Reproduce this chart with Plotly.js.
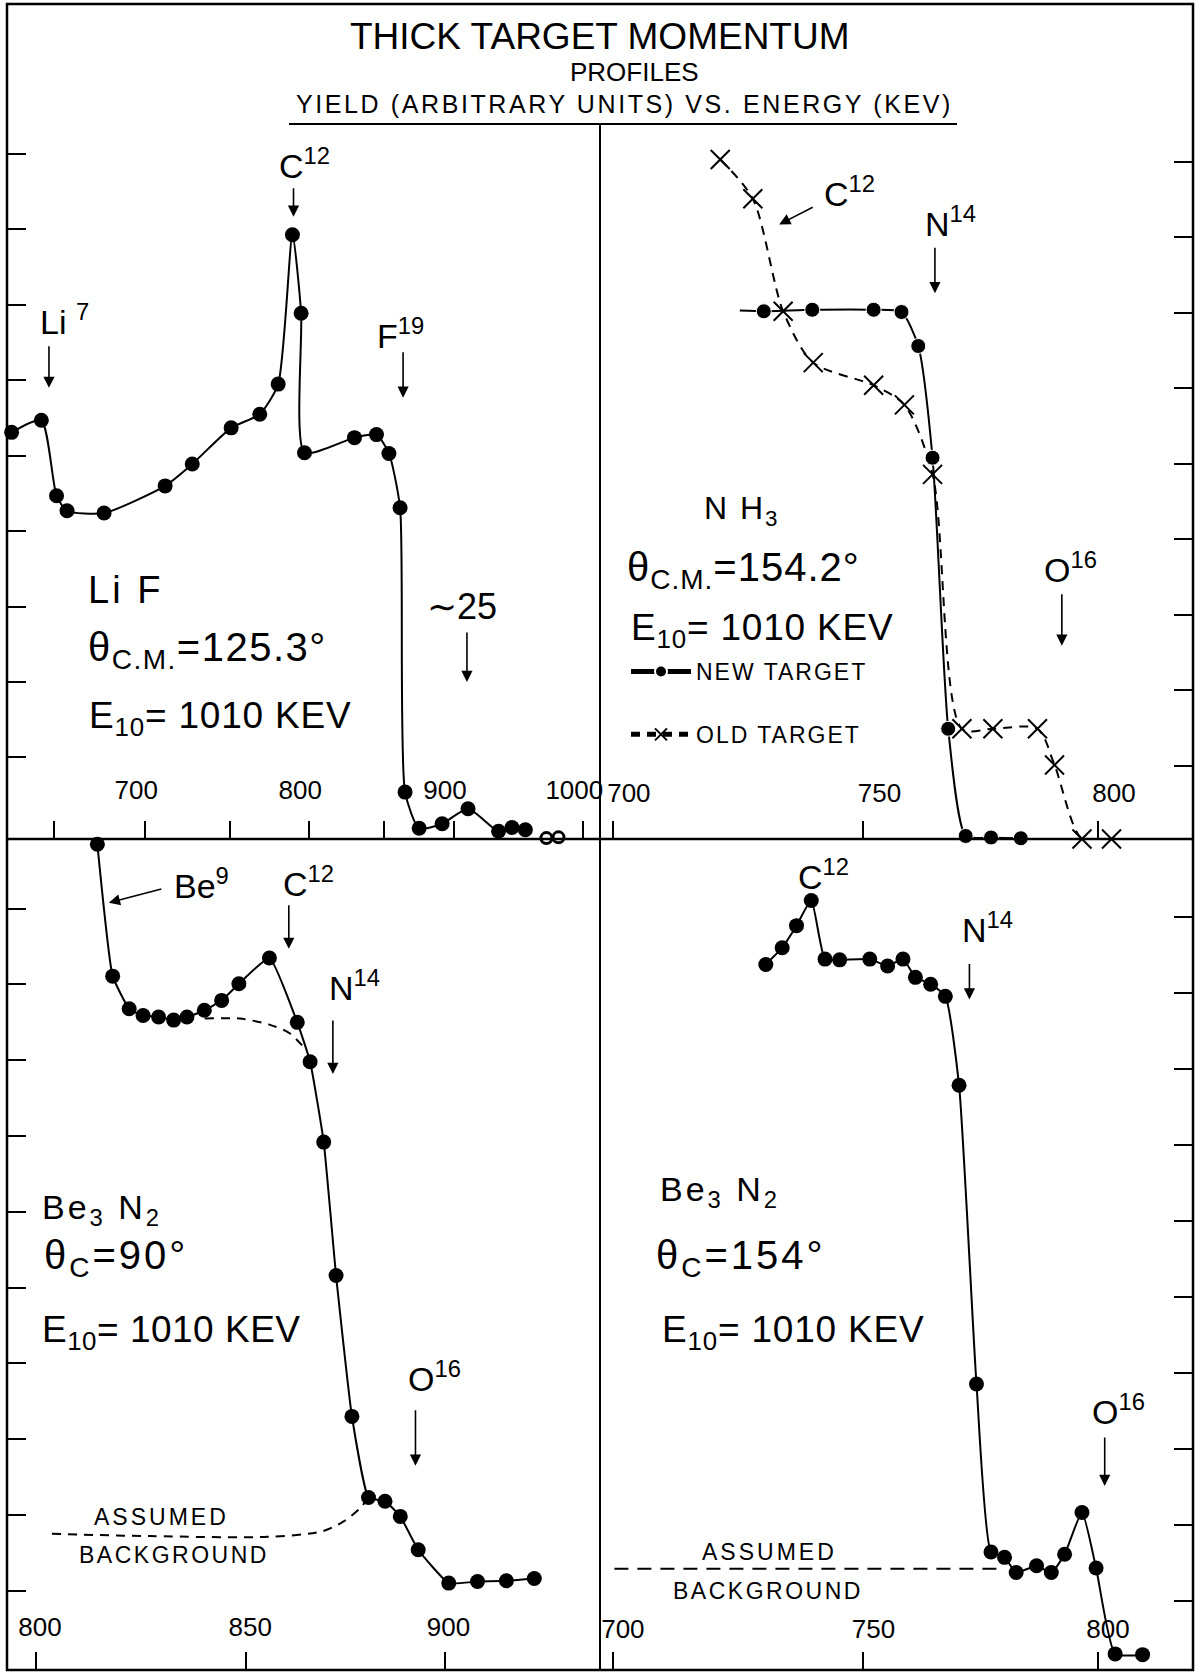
<!DOCTYPE html>
<html>
<head>
<meta charset="utf-8">
<script src="https://cdn.plot.ly/plotly-3.0.1.min.js"></script>
<style>html,body{margin:0;padding:0;background:#fff;}#chart{width:1198px;height:1675px;}</style>
</head>
<body>
<div id="chart"></div>
<script>
// ---------------- DATA (energy in keV, yield in arbitrary units) ----------------
// Top-left: LiF, theta_cm = 125.3 deg
const lifE = [627.8, 643.2, 651.2, 656.8, 676.9, 711.4, 727.3, 750.7, 768.4, 780.0, 789.1, 794.7, 796.9, 830.0, 845.0, 853.6, 861.4, 864.9, 874.9, 891.4, 910.4, 933.3, 943.6, 953.9];
const lifY = [5.31, 5.47, 4.47, 4.27, 4.24, 4.60, 4.89, 5.37, 5.55, 5.95, 7.93, 6.89, 5.04, 5.24, 5.28, 5.03, 4.31, 0.54, 0.06, 0.12, 0.32, 0.02, 0.07, 0.04];
const lifTailE = [970.4, 980.0];
const lifTailY = [-0.07, -0.06];
const lifTicks = [700, 800, 900, 1000];
const lifTickText = ['700', '800', '900', '1000'];
const lifMinorTicks = [650, 750, 850];
const lifArrowE = [647.2, 789.8, 863.5, 909.6];   // Li7, C12, F19, ~25
const lifArrowY = [5.90, 8.17, 5.77, 2.00];

// Top-right: NH3, theta_cm = 154.2 deg
const nh3NewE = [724.9, 729.7, 739.5, 752.1, 757.9, 761.4, 764.4, 767.7, 771.4, 776.8, 783.2];
const nh3NewY = [7.03, 7.02, 7.04, 7.04, 7.01, 6.56, 5.08, 1.49, 0.07, 0.05, 0.04];
const nh3OldE = [721.0, 727.5, 733.6, 739.7, 752.1, 758.5, 764.4, 770.6, 777.2, 786.8, 790.5, 796.5, 803.0];
const nh3OldY = [9.03, 8.51, 7.02, 6.34, 6.04, 5.78, 4.86, 1.49, 1.49, 1.49, 1.01, 0.03, 0.03];
const nh3Ticks = [700, 750, 800];
const nh3TickText = ['700', '750', '800'];
const nh3ArrowE = [764.9, 792.1];   // N14, O16
const nh3ArrowY = [7.26, 2.59];
const nh3C12E = 732.8, nh3C12Y = 8.17;

// Bottom-left: Be3N2, theta_c = 90 deg
const be90E = [814.3, 817.9, 821.8, 825.1, 828.8, 832.4, 835.6, 839.8, 844.0, 848.2, 855.7, 862.6, 865.8, 869.2, 872.3, 876.3, 880.5, 884.7, 888.6, 893.2, 901.1, 908.6, 916.2, 923.6];
const be90Y = [10.85, 9.11, 8.68, 8.59, 8.57, 8.53, 8.57, 8.66, 8.79, 9.01, 9.35, 8.50, 7.98, 6.92, 5.16, 3.30, 2.23, 2.18, 1.98, 1.54, 1.10, 1.12, 1.13, 1.16];
const be90BgC12E = [839.9, 848.4, 855.7, 860.6, 864.6];
const be90BgC12Y = [8.55, 8.55, 8.47, 8.36, 8.15];
const be90BgO16E = [803.7, 826.7, 855.2, 868.6, 874.1, 878.2, 880.5];
const be90BgO16Y = [1.75, 1.72, 1.71, 1.78, 1.91, 2.08, 2.23];
const be90Ticks = [800, 850, 900];
const be90TickText = ['800', '850', '900'];
const be90ArrowE = [860.5, 871.5, 892.5];  // C12, N14, O16
const be90ArrowY = [9.47, 7.82, 2.65];
const be90Be9E = 817.0, be90Be9Y = 10.08;

// Bottom-right: Be3N2, theta_c = 154 deg
const be154E = [730.1, 733.4, 736.3, 739.3, 742.1, 745.1, 751.3, 755.0, 758.2, 760.8, 764.0, 767.1, 770.0, 773.7, 776.8, 779.7, 782.2, 786.6, 789.8, 792.7, 796.5, 799.6, 803.8, 809.9];
const be154Y = [9.37, 9.59, 9.88, 10.21, 9.44, 9.43, 9.44, 9.35, 9.44, 9.20, 9.11, 8.95, 7.78, 3.85, 1.64, 1.57, 1.37, 1.46, 1.37, 1.61, 2.16, 1.43, 0.30, 0.29];
const be154BgE = [700.3, 778.0];
const be154BgY = [1.42, 1.42];
const be154Ticks = [700, 750, 800];
const be154TickText = ['700', '750', '800'];
const be154ArrowE = [772.2, 801.5];  // N14, O16
const be154ArrowY = [8.91, 2.51];

// ---------------- LAYOUT HELPERS ----------------
const W = 1198, H = 1675;
const FONT = 'Liberation Sans, Arial, sans-serif';
const fx = p => p / W;
const fy = p => 1 - p / H;
const XL = 7, XM = 600, XR = 1193, YT = 4, YM = 839, YB = 1670;

function txt(text, left, mid, size, anchor) {
  return {xref: 'paper', yref: 'paper', x: fx(left), y: fy(mid), text: text,
    showarrow: false, xanchor: anchor || 'left', yanchor: 'middle',
    font: {family: FONT, size: size, color: '#000'}};
}
function arrow(xa, ya, e, y, ax, ay) {
  return {xref: xa, yref: ya, x: Math.log10(e), y: y, text: '', showarrow: true,
    ax: ax, ay: ay, arrowhead: 2, arrowsize: 1.4, arrowwidth: 1.6, arrowcolor: '#000', standoff: 0};
}
const sp = (t, ls) => "<span style='letter-spacing:" + ls + "px'>" + t + "</span>";

const dot = {color: '#000', size: 15, symbol: 'circle', opacity: 1};
const solid = {color: '#000', width: 2, shape: 'spline', smoothing: 0.6};
const dashed = {color: '#000', width: 2, dash: '9px,7px', shape: 'spline', smoothing: 0.8};

const traces = [
  {x: lifE, y: lifY, xaxis: 'x', yaxis: 'y', mode: 'lines+markers', marker: dot, line: solid, cliponaxis: false, showlegend: false},
  {x: lifTailE, y: lifTailY, xaxis: 'x', yaxis: 'y', mode: 'markers', marker: {color: '#000', size: 11, symbol: 'circle-open', opacity: 1, line: {width: 3, color: '#000'}}, cliponaxis: false, showlegend: false},

  {x: nh3NewE, y: nh3NewY, xaxis: 'x2', yaxis: 'y2', mode: 'lines+markers', name: sp('NEW TARGET', 2),
   legendgroup: 'a', marker: {color: '#000', symbol: 'circle', opacity: 1, size: nh3NewE.map((v, i) => i === 0 ? 0 : 15)}, line: solid, cliponaxis: false},
  {x: nh3OldE, y: nh3OldY, xaxis: 'x2', yaxis: 'y2', mode: 'lines+markers', name: sp('OLD TARGET', 2),
   legendgroup: 'b', marker: {symbol: 'x-thin', size: 19, color: '#000', opacity: 1, line: {width: 2, color: '#000'}}, line: dashed, cliponaxis: false},

  {x: be90E, y: be90Y, xaxis: 'x3', yaxis: 'y3', mode: 'lines+markers', marker: dot, line: {color: '#000', width: 2, shape: 'spline', smoothing: 0.4}, cliponaxis: false, showlegend: false},
  {x: be90BgC12E, y: be90BgC12Y, xaxis: 'x3', yaxis: 'y3', mode: 'lines', line: dashed, showlegend: false},
  {x: be90BgO16E, y: be90BgO16Y, xaxis: 'x3', yaxis: 'y3', mode: 'lines', line: dashed, showlegend: false},

  {x: be154E, y: be154Y, xaxis: 'x4', yaxis: 'y4', mode: 'lines+markers', marker: dot, line: {color: '#000', width: 2, shape: 'spline', smoothing: 0.5}, cliponaxis: false, showlegend: false},
  {x: be154BgE, y: be154BgY, xaxis: 'x4', yaxis: 'y4', mode: 'lines', line: {color: '#000', width: 2, dash: '14px,9px'}, showlegend: false}
];

function xax(dom, rng, anchor, tv, tt, shift, standoff, minorTv) {
  const a = {domain: dom, type: 'log', range: rng, anchor: anchor, tickvals: tv, ticktext: tt,
    ticks: 'inside', ticklen: 18, tickwidth: 2, tickcolor: '#000', ticklabelposition: 'inside',
    ticklabeloverflow: 'allow', ticklabelstandoff: standoff, ticklabelshift: shift,
    tickfont: {family: FONT, size: 26, color: '#000'},
    showline: false, showgrid: false, zeroline: false, fixedrange: true};
  if (minorTv) a.minor = {tickvals: minorTv, ticks: 'inside', ticklen: 18, tickwidth: 2, tickcolor: '#000', showgrid: false};
  return a;
}
function yax(dom, rng, anchor, side, n) {
  const tv = [];
  for (let i = 1; i <= n; i++) tv.push(i);
  return {domain: dom, range: rng, anchor: anchor, side: side, tickvals: tv, showticklabels: false,
    ticks: 'inside', ticklen: 19, tickwidth: 2, tickcolor: '#000',
    showline: false, showgrid: false, zeroline: false, fixedrange: true};
}

const layout = {
  width: W, height: H, margin: {l: 0, r: 0, t: 0, b: 0},
  paper_bgcolor: '#fff', plot_bgcolor: 'rgba(0,0,0,0)',
  font: {family: FONT, color: '#000'},
  showlegend: true,
  legend: {x: fx(626), y: fy(650), xanchor: 'left', yanchor: 'top', bgcolor: 'rgba(0,0,0,0)',
    font: {family: FONT, size: 23, color: '#000'}, tracegroupgap: 30, traceorder: 'grouped',
    itemsizing: 'constant', itemwidth: 60},
  xaxis:  xax([fx(XL), fx(XM)], [2.7962, 3.0059], 'y', lifTicks, lifTickText, -9, 19, lifMinorTicks),
  yaxis:  yax([fy(YM), fy(YT)], [-0.082, 10.99], 'x', 'left', 9),
  xaxis2: xax([fx(XM), fx(XR)], [2.84356, 2.91446], 'y2', nh3Ticks, nh3TickText, 16, 16),
  yaxis2: yax([fy(YM), fy(YT)], [0.03, 11.09], 'x2', 'right', 9),
  xaxis3: xax([fx(XL), fx(XM)], [2.89947, 2.97371], 'y3', be90Ticks, be90TickText, 4, 13),
  yaxis3: yax([fy(YB), fy(YM)], [-0.047, 10.92], 'x3', 'left', 10),
  xaxis4: xax([fx(XM), fx(XR)], [2.84356, 2.91446], 'y4', be154Ticks, be154TickText, 10, 11),
  yaxis4: yax([fy(YB), fy(YM)], [0.088, 11.02], 'x4', 'right', 10),
  shapes: [
    {type: 'rect', xref: 'paper', yref: 'paper', x0: fx(XL), x1: fx(XR), y0: fy(YB), y1: fy(YT), line: {color: '#000', width: 2.5}},
    {type: 'line', xref: 'paper', yref: 'paper', x0: fx(XL), x1: fx(XR), y0: fy(YM), y1: fy(YM), line: {color: '#000', width: 2.5}},
    {type: 'line', xref: 'paper', yref: 'paper', x0: fx(XM), x1: fx(XM), y0: fy(124), y1: fy(YB), line: {color: '#000', width: 2}},
    {type: 'line', xref: 'paper', yref: 'paper', x0: fx(289), x1: fx(957), y0: fy(124), y1: fy(124), line: {color: '#000', width: 2}}
  ],
  annotations: [
    // titles
    txt('THICK TARGET MOMENTUM', 600, 37, 37, 'center'),
    txt('PROFILES', 634, 72, 26, 'center'),
    txt(sp('YIELD (ARBITRARY UNITS) VS. ENERGY (KEV)', 2.6), 624, 104, 25, 'center'),

    // top-left LiF
    txt('Li <sup>7</sup>', 38, 319, 34),
    txt('C<sup>12</sup>', 277, 163, 34),
    txt('F<sup>19</sup>', 375, 333, 34),
    txt(sp('Li F', 3), 86, 590, 38),
    txt(sp('θ<sub>C.M.</sub>=125.3°', 1.5), 86, 650, 40),
    txt(sp('E<sub>10</sub>= 1010 KEV', 0.8), 87, 718, 37),
    txt('∼25', 425, 606, 36),
    arrow('x', 'y', lifArrowE[0], lifArrowY[0], 0, -43),
    arrow('x', 'y', lifArrowE[1], lifArrowY[1], 0, -30),
    arrow('x', 'y', lifArrowE[2], lifArrowY[2], 0, -47),
    arrow('x', 'y', lifArrowE[3], lifArrowY[3], 0, -51),

    // top-right NH3
    txt('C<sup>12</sup>', 822, 191, 34),
    txt('N<sup>14</sup>', 923, 221, 34),
    txt(sp('N H<sub>3</sub>', 2), 702, 510, 32),
    txt(sp('θ<sub>C.M.</sub>=154.2°', 1), 625, 570, 40),
    txt(sp('E<sub>10</sub>= 1010 KEV', 0.8), 629, 630, 37),
    txt('O<sup>16</sup>', 1042, 567, 34),
    arrow('x2', 'y2', nh3C12E, nh3C12Y, 35, -18),
    arrow('x2', 'y2', nh3ArrowE[0], nh3ArrowY[0], 0, -47),
    arrow('x2', 'y2', nh3ArrowE[1], nh3ArrowY[1], 0, -53),

    // bottom-left Be3N2 90
    txt('Be<sup>9</sup>', 172, 883, 34),
    txt('C<sup>12</sup>', 281, 882, 34),
    txt('N<sup>14</sup>', 327, 986, 34),
    txt(sp('Be<sub>3</sub> N<sub>2</sub>', 3), 40, 1209, 34),
    txt(sp('θ<sub>C</sub>=90°', 3), 42, 1258, 40),
    txt(sp('E<sub>10</sub>= 1010 KEV', 0.5), 40, 1332, 37),
    txt('O<sup>16</sup>', 406, 1376, 34),
    txt(sp('ASSUMED', 3), 162, 1517, 23, 'center'),
    txt(sp('BACKGROUND', 2.5), 174, 1555, 23, 'center'),
    arrow('x3', 'y3', be90Be9E, be90Be9Y, 54, -14),
    arrow('x3', 'y3', be90ArrowE[0], be90ArrowY[0], 0, -45),
    arrow('x3', 'y3', be90ArrowE[1], be90ArrowY[1], 0, -55),
    arrow('x3', 'y3', be90ArrowE[2], be90ArrowY[2], 0, -57),

    // bottom-right Be3N2 154
    txt('C<sup>12</sup>', 796, 874, 34),
    txt('N<sup>14</sup>', 960, 927, 34),
    txt(sp('Be<sub>3</sub> N<sub>2</sub>', 3), 658, 1191, 34),
    txt(sp('θ<sub>C</sub>=154°', 3), 654, 1258, 40),
    txt(sp('E<sub>10</sub>= 1010 KEV', 0.8), 660, 1332, 37),
    txt('O<sup>16</sup>', 1090, 1409, 34),
    txt(sp('ASSUMED', 3), 769, 1552, 23, 'center'),
    txt(sp('BACKGROUND', 2.5), 768, 1591, 23, 'center'),
    arrow('x4', 'y4', be154ArrowE[0], be154ArrowY[0], 0, -37),
    arrow('x4', 'y4', be154ArrowE[1], be154ArrowY[1], 0, -50)
  ]
};

Plotly.newPlot('chart', traces, layout, {displayModeBar: false, staticPlot: true});
</script>
</body>
</html>
